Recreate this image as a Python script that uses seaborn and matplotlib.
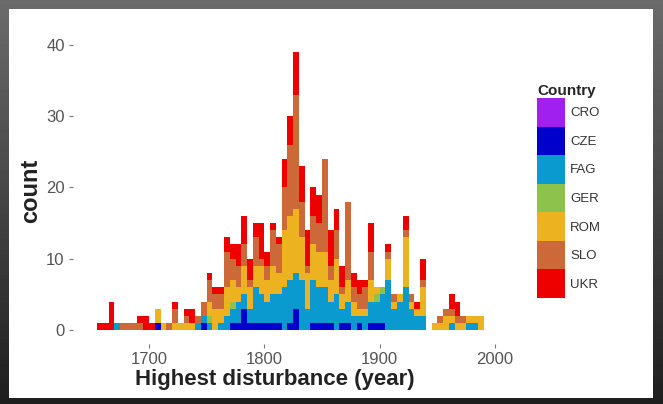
import numpy as np
import pandas as pd
import seaborn as sns
import matplotlib
matplotlib.use('Agg')
import matplotlib.pyplot as plt
from matplotlib.patches import Patch, Rectangle

sns.set_theme(style='white')
plt.rcParams['font.family'] = ['Liberation Sans', 'DejaVu Sans']

# 5-year classes, left edges 1655 ... 1985
bin_start = list(range(1655, 1990, 5))
countries = ['CRO', 'CZE', 'FAG', 'GER', 'ROM', 'SLO', 'UKR']
colors = ['#A020F0', '#0000CD', '#0B9AD0', '#8DC24C', '#EDB21F', '#CD6839', '#EE0000']

# counts, one value per class
cro = [0, 0, 0, 0, 0, 0, 0, 0, 0, 0,
       0, 0, 0, 0, 0, 0, 0, 0, 0, 0,
       0, 0, 0, 0, 0, 0, 0, 0, 0, 0,
       0, 0, 0, 0, 0, 0, 0, 0, 0, 0,
       0, 0, 0, 0, 0, 0, 0, 0, 0, 0,
       0, 0, 0, 0, 0, 0, 0, 0, 0, 0,
       0, 0, 0, 0, 0, 0, 0]
cze = [0, 0, 0, 0, 0, 0, 0, 0, 0, 0,
       1, 0, 0, 0, 0, 0, 0, 0, 1, 0,
       0, 0, 0, 1, 1, 3, 1, 1, 1, 1,
       1, 1, 0, 1, 3, 0, 0, 1, 1, 1,
       1, 0, 1, 1, 0, 1, 0, 1, 1, 1,
       0, 0, 0, 0, 0, 0, 0, 0, 0, 0,
       0, 0, 0, 0, 0, 0, 0]
fag = [0, 0, 0, 1, 0, 0, 0, 0, 0, 0,
       0, 0, 0, 0, 0, 0, 0, 1, 1, 1,
       0, 1, 2, 2, 3, 2, 2, 5, 4, 3,
       4, 4, 6, 6, 5, 7, 3, 6, 5, 5,
       3, 5, 2, 3, 2, 1, 2, 3, 3, 4,
       7, 3, 4, 6, 3, 2, 2, 0, 0, 0,
       0, 1, 0, 0, 1, 1, 0]
ger = [0, 0, 0, 0, 0, 0, 0, 0, 0, 0,
       0, 0, 0, 0, 0, 0, 0, 0, 0, 1,
       0, 0, 0, 1, 0, 0, 0, 0, 0, 0,
       0, 0, 0, 0, 0, 0, 0, 0, 0, 0,
       0, 0, 0, 0, 0, 0, 0, 0, 1, 1,
       0, 0, 0, 0, 0, 0, 0, 0, 0, 0,
       0, 0, 0, 0, 0, 0, 0]
rom = [0, 0, 0, 0, 0, 0, 0, 0, 0, 0,
       2, 1, 0, 1, 1, 1, 1, 0, 0, 2,
       3, 2, 4, 3, 2, 4, 3, 3, 4, 3,
       4, 3, 8, 9, 9, 6, 5, 5, 5, 5,
       3, 5, 2, 3, 2, 1, 1, 3, 1, 0,
       3, 1, 1, 7, 1, 1, 4, 0, 1, 1,
       2, 1, 1, 1, 1, 1, 2]
slo = [0, 0, 0, 0, 1, 1, 1, 1, 0, 0,
       0, 0, 1, 2, 0, 1, 0, 1, 2, 3,
       2, 2, 5, 3, 3, 3, 1, 4, 1, 2,
       5, 4, 6, 10, 16, 5, 1, 4, 4, 13,
       2, 4, 1, 11, 2, 2, 3, 4, 0, 0,
       1, 1, 0, 1, 1, 0, 1, 0, 0, 1,
       1, 1, 1, 1, 0, 0, 0]
ukr = [1, 1, 4, 0, 0, 0, 0, 1, 2, 1,
       0, 0, 0, 1, 0, 1, 2, 0, 0, 1,
       1, 1, 2, 2, 3, 4, 3, 2, 5, 2,
       1, 1, 4, 4, 6, 5, 5, 4, 4, 0,
       5, 3, 3, 0, 2, 2, 1, 4, 0, 0,
       1, 0, 0, 2, 0, 1, 3, 0, 0, 0,
       0, 2, 2, 0, 0, 0, 0]

counts = dict(zip(countries, [cro, cze, fag, ger, rom, slo, ukr]))
rows = [(y + 2.5, c, n) for c, vals in counts.items() for y, n in zip(bin_start, vals)]
df = pd.DataFrame(rows, columns=['year', 'Country', 'n'])
palette = dict(zip(countries, colors))

fig = plt.figure(figsize=(6.63, 4.04), dpi=100)

# dark frame around the white slide area
bg = fig.add_axes([0, 0, 1, 1], zorder=0)
grad = np.linspace(0.42, 0.12, 100).reshape(-1, 1)
bg.imshow(grad, cmap='gray', vmin=0, vmax=1, aspect='auto', extent=[0, 1, 0, 1])
bg.set_axis_off()
fig.patches.append(Rectangle((9 / 663, 6 / 404), 644 / 663, 389 / 404,
                             transform=fig.transFigure, facecolor='white',
                             edgecolor='none', zorder=1))

ax = fig.add_axes([73 / 663, 1 - 344 / 404, 430 / 663, 306 / 404], zorder=2)
ax.set_facecolor('none')
sns.histplot(data=df, x='year', hue='Country', weights='n',
             binwidth=5, binrange=(1655, 1990), multiple='stack',
             hue_order=countries[::-1], palette=palette, alpha=1,
             linewidth=0, legend=False, ax=ax)

ax.set_xlim(1634.1, 2006.9)
ax.set_ylim(-1.95, 40.95)
ax.set_xticks([1700, 1800, 1900, 2000])
ax.set_yticks([0, 10, 20, 30, 40])
sns.despine(ax=ax, left=True, bottom=True)
ax.tick_params(length=3, width=0.8, color='#777777', labelcolor='#555555',
               labelsize=12, pad=3, left=True, bottom=True)
ax.set_xlabel('Highest disturbance (year)', fontsize=16, fontweight='bold',
              color='#222222')
ax.xaxis.set_label_coords(0.47, -0.082)
ax.set_ylabel('count', fontsize=17, fontweight='bold', color='#222222')
ax.yaxis.set_label_coords(-0.072, 0.50)

handles = [Patch(facecolor=palette[c], edgecolor='none', label=c) for c in countries]
leg = fig.legend(handles=handles, title='Country', loc='upper left',
                 bbox_to_anchor=(528 / 663, 1 - 75 / 404), frameon=False,
                 fontsize=9.5, handlelength=2.1, handleheight=2.95,
                 labelspacing=0.0, handletextpad=0.4, borderpad=0.2,
                 alignment='left')
leg.get_title().set_fontweight('bold')
leg.get_title().set_fontsize(11)
for t in leg.get_texts():
    t.set_color('#333333')

fig.savefig('out.png', dpi=100)
